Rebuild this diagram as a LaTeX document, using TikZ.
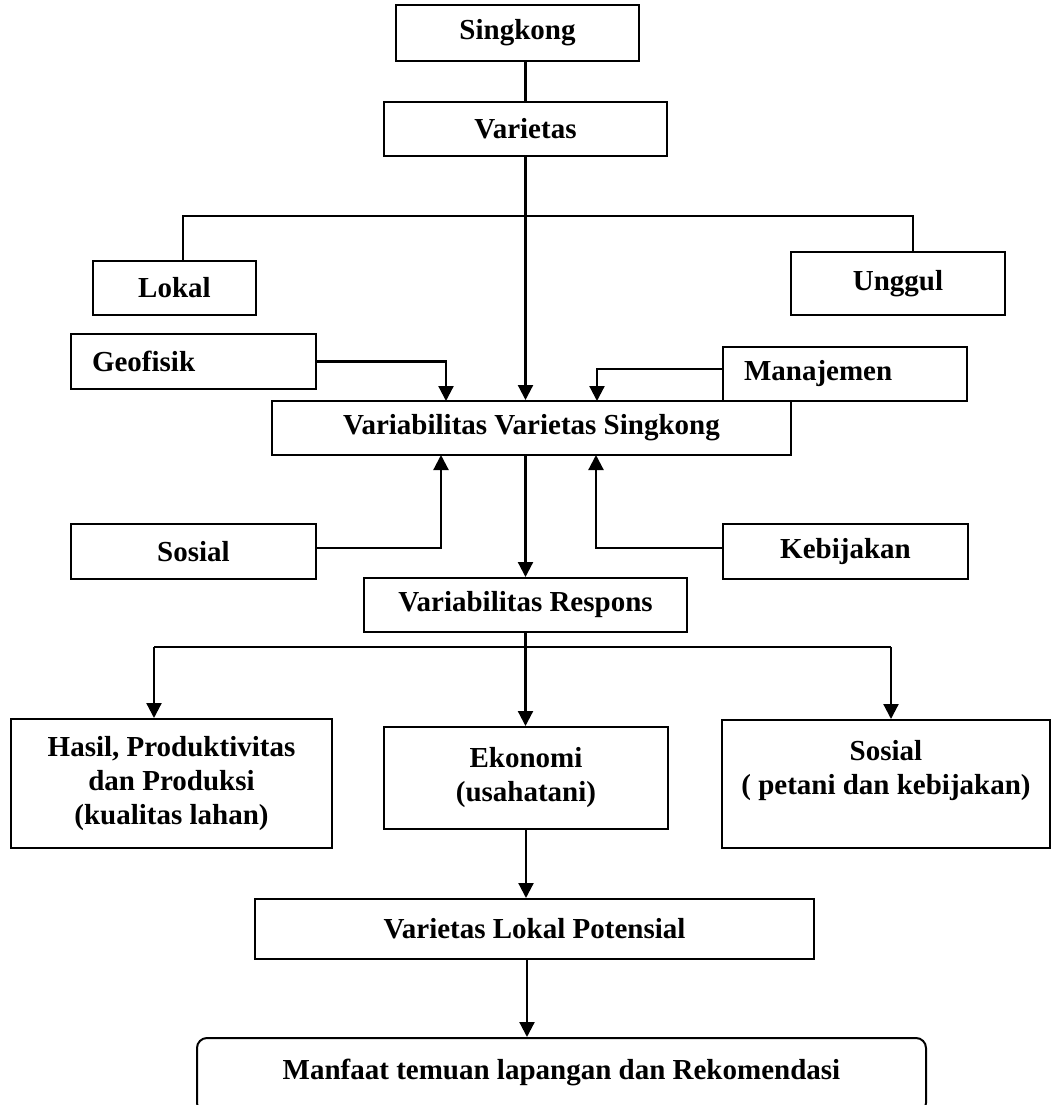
\documentclass[tikz,border=0pt]{standalone}
\usepackage{fontspec}
\setmainfont{Liberation Serif}
\usepackage{tikz}
\usetikzlibrary{arrows.meta}

\tikzset{
  box/.style={draw, line width=1pt, inner sep=0pt, align=center,
    font=\fontsize{14.5pt}{17pt}\selectfont\bfseries},
  leftbox/.style={box, align=left, inner xsep=10.5pt},
  link/.style={line width=1.1pt},
  arr/.style={link, -{Triangle[length=7.5pt,width=7.5pt]}}
}

\begin{document}
\begin{tikzpicture}[x=0.5pt, y=-0.5pt]
          \useasboundingbox (0,0) rectangle (1053,1105);
          % top: singkong and varietas
          \node[box, minimum width=121.5pt, minimum height=28pt] (sing) at (517.5,33) {Singkong};
          \node[box, minimum width=141.5pt, minimum height=27pt] (var) at (525.5,129) {Varietas};
          \node[box, minimum width=81.5pt, minimum height=27pt] (lokal) at (174.5,288) {Lokal};
          \node[box, minimum width=107pt, minimum height=31.5pt] (unggul) at (898,283.5) {Unggul};
          % factors
          \node[leftbox, text width=101.5pt, minimum height=27.5pt] (geof) at (193.5,361.5) {Geofisik};
          \node[leftbox, text width=101pt, minimum height=27pt] (manaj) at (845,374) {Manajemen};
          \node[box, minimum width=259.5pt, minimum height=27pt] (vvs) at (531.5,428) {Variabilitas Varietas Singkong};
          \node[box, minimum width=122.5pt, minimum height=27.5pt] (sos) at (193.5,551.5) {Sosial};
          \node[box, minimum width=122.5pt, minimum height=27.5pt] (kebij) at (845.5,551.5) {Kebijakan};
          % responses
          \node[box, minimum width=161.5pt, minimum height=27pt] (vr) at (525.5,605) {Variabilitas Respons};
          \node[box, minimum width=160.5pt, minimum height=64.5pt] (hasil) at (171.5,783.5) {Hasil, Produktivitas\\dan Produksi\\(kualitas lahan)};
          \node[box, minimum width=142pt, minimum height=51pt] (ekon) at (526,778) {Ekonomi\\(usahatani)};
          \node[box, minimum width=164pt, minimum height=64pt] (sos2) at (886,784) {Sosial\\( petani dan kebijakan)\\\mbox{}};
          % bottom
          \node[box, minimum width=279.5pt, minimum height=30pt] (vlp) at (534.5,929) {Varietas Lokal Potensial};
          \node[box, rounded corners=5pt, minimum width=364.5pt, text height=20.5pt, text depth=17pt, anchor=north] (manf) at (561.5,1037) {Manfaat temuan lapangan dan Rekomendasi};
          % branch points
          \coordinate (brL) at (183,216);
          \coordinate (brR) at (913,216);
          \coordinate (geoin) at (446,401);
          \coordinate (manin) at (597,401);
          \coordinate (sosin) at (441,455);
          \coordinate (kebin) at (596,455);
          \coordinate (rl) at (154,647);
          \coordinate (rr) at (891,647);
          % connectors
          \draw[link] (sing.south -| var.north) -- (var.north);
          \draw[arr] (var.south) -- (var.south |- vvs.north);
          \draw[link] (lokal.north -| brL) |- (brR) -- (brR |- unggul.north);
          \draw[arr] (geof.east) -| (geoin);
          \draw[arr] ([yshift=2.5pt]manaj.west) -| (manin);
          \draw[arr] ([yshift=1.75pt]sos.east) -| (sosin);
          \draw[arr] ([yshift=1.75pt]kebij.west) -| (kebin);
          \draw[arr] (vvs.south -| vr.north) -- (vr.north);
          \draw[link] (vr.south) -- (vr.south |- rl);
          \draw[link] (rl) -- (rr);
          \draw[arr] (rl) -- (rl |- hasil.north);
          \draw[arr] (vr.south |- rl) -- (vr.south |- ekon.north);
          \draw[arr] (rr) -- (rr |- sos2.north);
          \draw[arr] (ekon.south) -- (ekon.south |- vlp.north);
          \draw[arr] ([xshift=-3.75pt]vlp.south) -- ([xshift=-3.75pt]vlp.south |- manf.north);
        \end{tikzpicture}
\end{document}
